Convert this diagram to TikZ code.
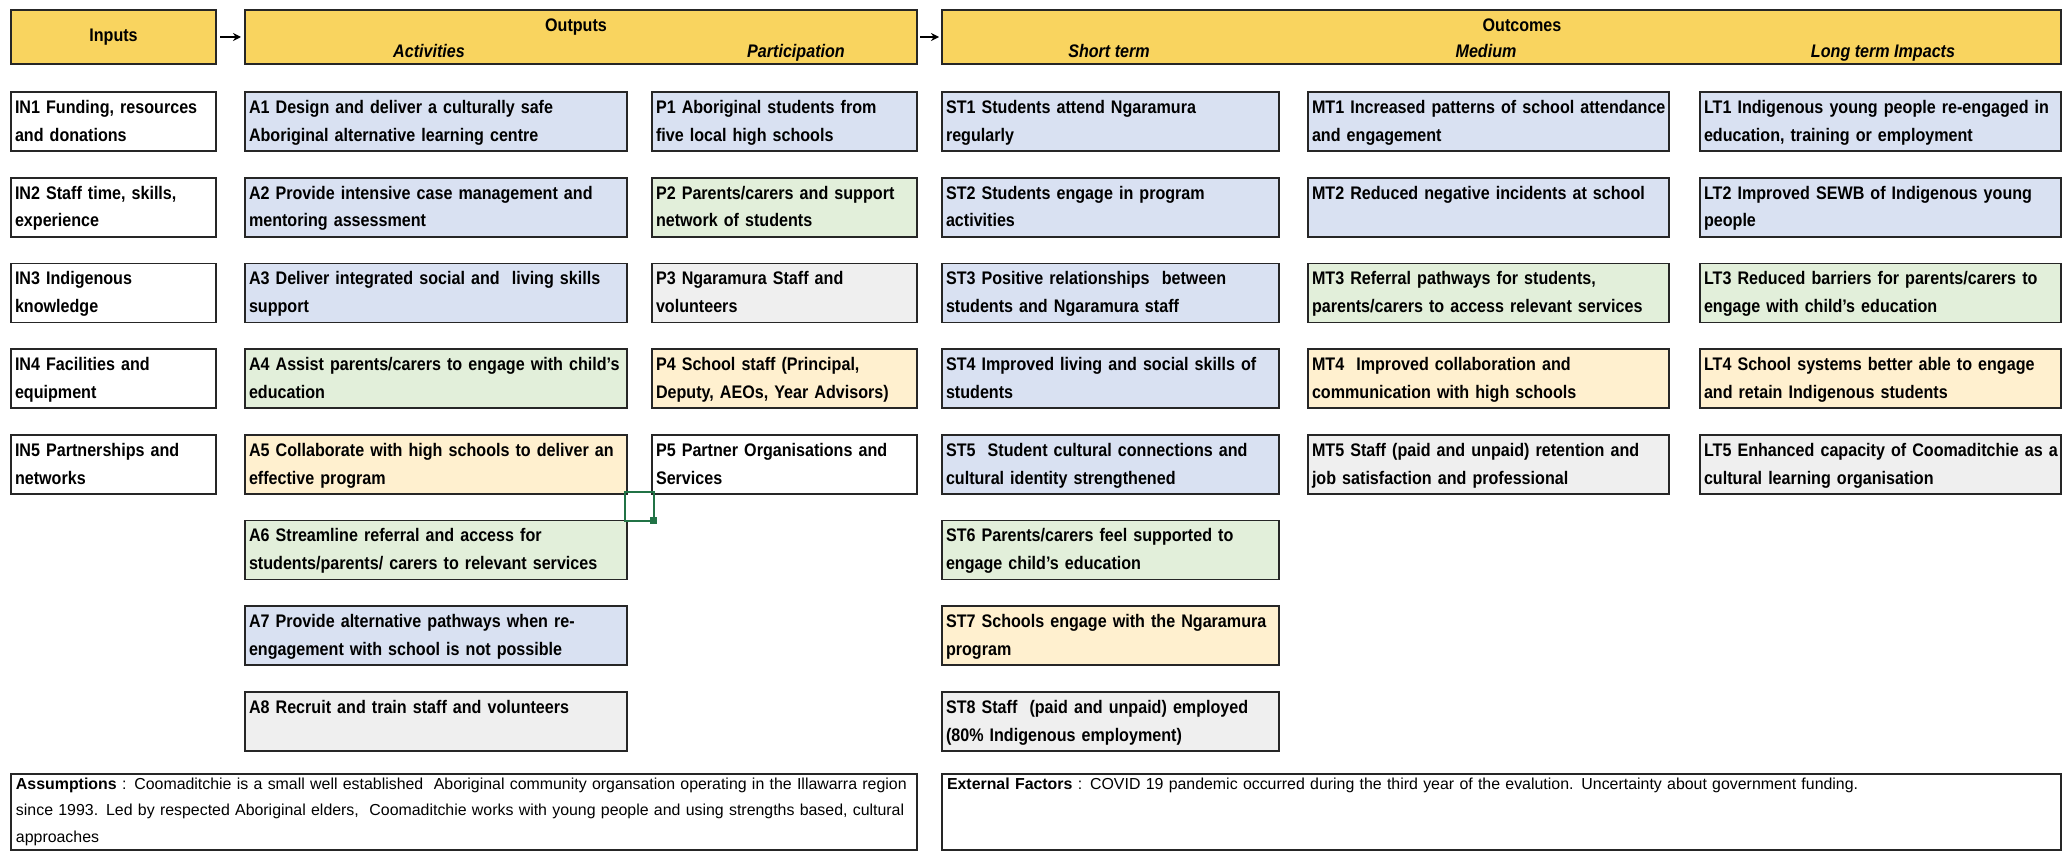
\documentclass[tikz,border=0pt]{standalone}
\usepackage{fontspec}
\setmainfont{Liberation Sans}[FakeStretch=0.885]
\newfontfamily\notefont{Liberation Sans}
\usetikzlibrary{positioning,arrows.meta}

\definecolor{headgold}{HTML}{F9D45F}
\definecolor{cellblue}{HTML}{D9E1F2}
\definecolor{cellgreen}{HTML}{E2EFDA}
\definecolor{cellyellow}{HTML}{FFF0CF}
\definecolor{cellgrey}{HTML}{EFEFEF}
\definecolor{selgreen}{HTML}{217346}

\tikzset{
    % Zeilen sollen nie umbrechen, lieber ein wenig ueber den Rand laufen (wie im Original):
    nowrap/.style={execute at begin node={\hyphenpenalty=10000\exhyphenpenalty=10000\rightskip=0pt minus 40pt}},
    % Ein Kaestchen der Tabelle; der Text steht immer oben links (deshalb text height/depth fest):
    cell/.style={draw=black!85, line width=1.6pt, fill=#1, anchor=north west, outer sep=0pt,
        inner xsep=4pt, inner ysep=0pt, text height=21.3pt, text depth=37.7pt, nowrap,
        font=\fontsize{18.2}{28}\selectfont\bfseries},
    cell/.default=white,
    % Breite der einzelnen Spalten (Kaestchenbreite minus 2*4pt):
    incol/.style={text width=197pt},
    actcol/.style={text width=374pt},
    partcol/.style={text width=257pt},
    stcol/.style={text width=329pt},
    mtcol/.style={text width=353pt},
    ltcol/.style={text width=353pt},
    % Die gelben Kopfzeilen:
    header/.style={draw=black!85, line width=1.6pt, fill=headgold, anchor=north west, outer sep=0pt,
        minimum height=54pt, inner sep=0pt, font=\fontsize{18.2}{20}\selectfont\bfseries},
    title/.style={anchor=base, inner sep=0pt, font=\fontsize{18.2}{20}\selectfont\bfseries},
    subtitle/.style={title, font=\fontsize{18.2}{20}\selectfont\bfseries\itshape},
    % Die beiden Kaesten ganz unten:
    note/.style={draw=black!85, line width=1.6pt, anchor=north west, outer sep=0pt,
        inner xsep=5pt, inner ysep=0pt, text height=15pt, text depth=61pt, nowrap,
        font=\notefont\fontsize{15.9}{26.7}\selectfont},
}

\begin{document}
\begin{tikzpicture}[x=1pt, y=-1pt, node distance=26.7pt, >={Stealth[length=8pt, width=8pt]}]
    % Bildgroesse wie im Original (in Pixeln, 1px = 1pt):
    \useasboundingbox (0,0) rectangle (2064,864);
    % Kopfzeile mit den drei gelben Balken und den Pfeilen dazwischen:
    \node[header, minimum width=205pt] (inputs) at (11,10) {Inputs};
    \node[header, minimum width=672pt] (outputs) at (245,10) {};
    \node[header, minimum width=1119pt] (outcomes) at (942,10) {};
    \draw[->, line width=1.5pt, shorten <=4pt, shorten >=4pt] (inputs) -- (outputs);
    \draw[->, line width=1.5pt, shorten <=3pt, shorten >=3pt] (outputs) -- (outcomes);
    \node[title] (outputstitle) at (576,31.7) {Outputs};
    \node[title] (outcomestitle) at (1522,31.7) {Outcomes};
    \node[subtitle] (acttitle) at (429,57.3) {Activities};
    \node[subtitle] (parttitle) at (796,57.3) {Participation};
    \node[subtitle] (shorttitle) at (1109,57.3) {Short term};
    \node[subtitle] (mediumtitle) at (1486,57.3) {Medium};
    \node[subtitle] (longtitle) at (1883,57.3) {Long term Impacts};
    % Spalte Inputs:
    \node[cell, incol] (in1) at (11,92) {IN1 Funding, resources\\and donations};
    \node[cell, incol, below=of in1] (in2) {IN2 Staff time, skills,\\experience};
    \node[cell, incol, below=of in2] (in3) {IN3 Indigenous\\knowledge};
    \node[cell, incol, below=of in3] (in4) {IN4 Facilities and\\equipment};
    \node[cell, incol, below=of in4] (in5) {IN5 Partnerships and\\networks};
    % Spalte Activities:
    \node[cell=cellblue, actcol] (a1) at (245,92) {A1 Design and deliver a culturally safe\\Aboriginal alternative learning centre};
    \node[cell=cellblue, actcol, below=of a1] (a2) {A2 Provide intensive case management and\\mentoring assessment};
    \node[cell=cellblue, actcol, below=of a2] (a3) {A3 Deliver integrated social and~ living skills\\support};
    \node[cell=cellgreen, actcol, below=of a3] (a4) {A4 Assist parents/carers to engage with child’s\\education};
    \node[cell=cellyellow, actcol, below=of a4] (a5) {A5 Collaborate with high schools to deliver an\\effective program};
    \node[cell=cellgreen, actcol, below=of a5] (a6) {A6 Streamline referral and access for\\students/parents/ carers to relevant services};
    \node[cell=cellblue, actcol, below=of a6] (a7) {A7 Provide alternative pathways when re-\\engagement with school is not possible};
    \node[cell=cellgrey, actcol, below=of a7] (a8) {A8 Recruit and train staff and volunteers};
    % Spalte Participation:
    \node[cell=cellblue, partcol] (p1) at (652,92) {P1 Aboriginal students from\\five local high schools};
    \node[cell=cellgreen, partcol, below=of p1] (p2) {P2 Parents/carers and support\\network of students};
    \node[cell=cellgrey, partcol, below=of p2] (p3) {P3 Ngaramura Staff and\\volunteers};
    \node[cell=cellyellow, partcol, below=of p3] (p4) {P4 School staff (Principal,\\Deputy, AEOs, Year Advisors)};
    \node[cell, partcol, below=of p4] (p5) {P5 Partner Organisations and\\Services};
    % Spalte Short term:
    \node[cell=cellblue, stcol] (st1) at (942,92) {ST1 Students attend Ngaramura\\regularly};
    \node[cell=cellblue, stcol, below=of st1] (st2) {ST2 Students engage in program\\activities};
    \node[cell=cellblue, stcol, below=of st2] (st3) {ST3 Positive relationships~ between\\students and Ngaramura staff};
    \node[cell=cellblue, stcol, below=of st3] (st4) {ST4 Improved living and social skills of\\students};
    \node[cell=cellblue, stcol, below=of st4] (st5) {ST5~ Student cultural connections and\\cultural identity strengthened};
    \node[cell=cellgreen, stcol, below=of st5] (st6) {ST6 Parents/carers feel supported to\\engage child's education};
    \node[cell=cellyellow, stcol, below=of st6] (st7) {ST7 Schools engage with the Ngaramura\\program};
    \node[cell=cellgrey, stcol, below=of st7] (st8) {ST8 Staff~ (paid and unpaid) employed\\(80\% Indigenous employment)};
    % Spalte Medium:
    \node[cell=cellblue, mtcol] (mt1) at (1308,92) {MT1 Increased patterns of school attendance\\and engagement};
    \node[cell=cellblue, mtcol, below=of mt1] (mt2) {MT2 Reduced negative incidents at school};
    \node[cell=cellgreen, mtcol, below=of mt2] (mt3) {MT3 Referral pathways for students,\\parents/carers to access relevant services};
    \node[cell=cellyellow, mtcol, below=of mt3] (mt4) {MT4~ Improved collaboration and\\communication with high schools};
    \node[cell=cellgrey, mtcol, below=of mt4] (mt5) {MT5 Staff (paid and unpaid) retention and\\job satisfaction and professional};
    % Spalte Long term Impacts:
    \node[cell=cellblue, ltcol] (lt1) at (1700,92) {LT1 Indigenous young people re-engaged in\\education, training or employment};
    \node[cell=cellblue, ltcol, below=of lt1] (lt2) {LT2 Improved SEWB of Indigenous young\\people};
    \node[cell=cellgreen, ltcol, below=of lt2] (lt3) {LT3 Reduced barriers for parents/carers to\\engage with child's education};
    \node[cell=cellyellow, ltcol, below=of lt3] (lt4) {LT4 School systems better able to engage\\and retain Indigenous students};
    \node[cell=cellgrey, ltcol, below=of lt4] (lt5) {LT5 Enhanced capacity of Coomaditchie as a\\cultural learning organisation};
    % Der gruene Auswahlrahmen aus der Tabellenkalkulation (zwischen A5, A6 und P5):
    \draw[selgreen, line width=2.2pt] (625,492) rectangle (654,521);
    \fill[selgreen] (650,517) rectangle (657,524);
    % Unten die Annahmen und die externen Faktoren:
    \node[note, text width=896pt] (assump) at (11,774) {\textbf{Assumptions} : Coomaditchie is a small well established~ Aboriginal community organsation operating in the Illawarra region\\since 1993. Led by respected Aboriginal elders,~ Coomaditchie works with young people and using strengths based, cultural\\approaches};
    \node[note, text width=1109pt] (extern) at (942,774) {\textbf{External Factors} : COVID 19 pandemic occurred during the third year of the evalution. Uncertainty about government funding.};
\end{tikzpicture}
\end{document}
